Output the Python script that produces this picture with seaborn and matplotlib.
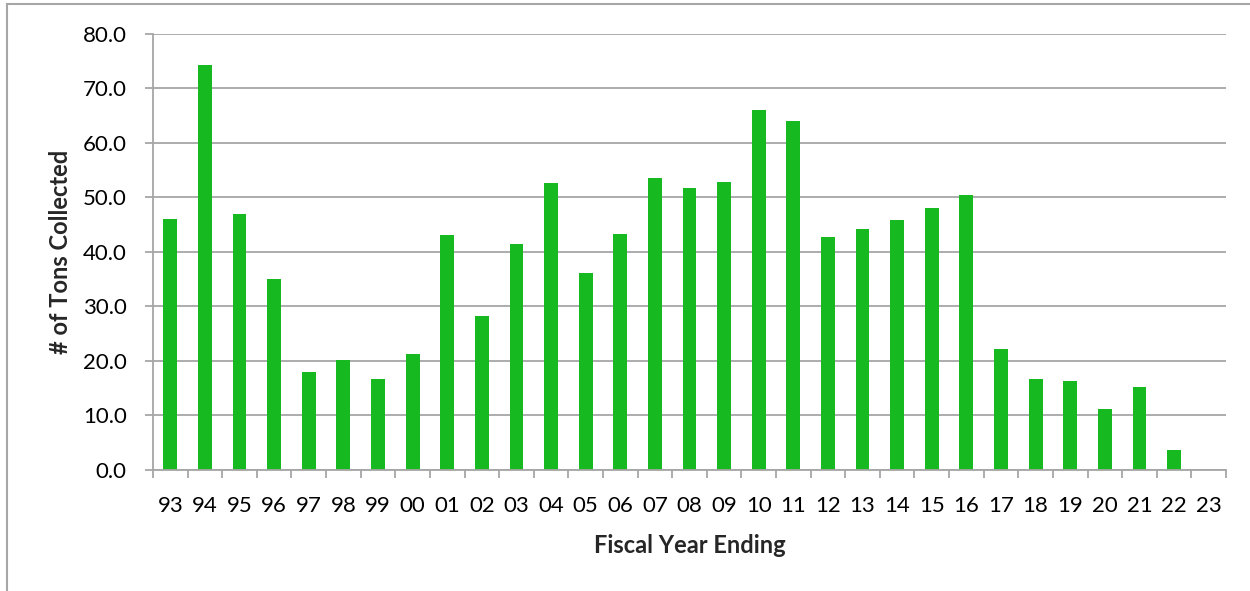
import numpy as np
import pandas as pd
import matplotlib
matplotlib.use("Agg")
import matplotlib.pyplot as plt
from matplotlib.patches import Rectangle
from matplotlib.ticker import FixedLocator
import seaborn as sns


# =========================
# data
# =========================
fiscal_years = ["93", "94", "95", "96", "97", "98", "99", "00", "01", "02",
                "03", "04", "05", "06", "07", "08", "09", "10", "11", "12",
                "13", "14", "15", "16", "17", "18", "19", "20", "21", "22", "23"]
tons_collected = [46.0, 74.2, 46.9, 35.0, 18.0, 20.2, 16.7, 21.2, 43.0, 28.2,
                  41.4, 52.6, 36.1, 43.3, 53.6, 51.7, 52.8, 66.0, 63.9, 42.8,
                  44.1, 45.9, 48.0, 50.4, 22.1, 16.6, 16.4, 11.2, 15.2, 3.6, np.nan]
y_ticks = [0, 10, 20, 30, 40, 50, 60, 70, 80]

BAR_COLOR = "#17B920"
GRID_COLOR = "#A6A6A6"


def main() -> None:
    sns.set_theme(style="white")
    plt.rcParams["font.family"] = ["Lato", "DejaVu Sans"]

    df = pd.DataFrame({"year": fiscal_years, "tons": tons_collected})

    fig = plt.figure(figsize=(12.5, 5.91), dpi=100)
    ax = fig.add_axes([0.1224, 0.2047, 0.8584, 0.7383])

    sns.barplot(data=df, x="year", y="tons", order=fiscal_years,
                color=BAR_COLOR, saturation=1, width=0.4, linewidth=0, ax=ax)

    ax.set_xlim(-0.5, len(fiscal_years) - 0.5)
    ax.set_ylim(0, 80)
    ax.set_yticks(y_ticks)
    ax.set_yticklabels([f"{v:.1f}" for v in y_ticks])

    # grid + axes in the excel grey
    ax.yaxis.grid(True, color=GRID_COLOR, linewidth=1.3)
    ax.set_axisbelow(True)
    for side in ["top", "right"]:
        ax.spines[side].set_visible(False)
    for side in ["left", "bottom"]:
        ax.spines[side].set_color(GRID_COLOR)
        ax.spines[side].set_linewidth(1.3)

    # x ticks sit between categories
    ax.xaxis.set_minor_locator(FixedLocator(np.arange(-0.5, len(fiscal_years), 1.0)))
    ax.tick_params(axis="x", which="major", length=0, pad=19, labelsize=16, colors="black")
    ax.tick_params(axis="x", which="minor", length=6, width=1.3, color=GRID_COLOR, direction="out", bottom=True)
    ax.tick_params(axis="y", which="major", length=6, width=1.3, color=GRID_COLOR, direction="out",
                   left=True, pad=13, labelsize=16, labelcolor="black")

    ax.set_xlabel("Fiscal Year Ending", fontsize=17, fontweight="bold", labelpad=13)
    ax.set_ylabel("# of Tons Collected", fontsize=17, fontweight="bold", labelpad=8)

    # outer chart frame (cropped at the right/bottom)
    fig.patches.append(Rectangle((7 / 1250, -0.1), 1.2, 1 - 4 / 591 + 0.1,
                                 transform=fig.transFigure, fill=False,
                                 edgecolor=GRID_COLOR, linewidth=1.5))

    fig.savefig("out.png", dpi=100)


if __name__ == "__main__":
    main()
